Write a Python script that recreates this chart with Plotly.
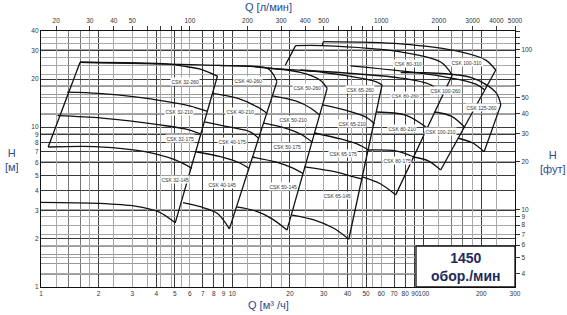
import math
import plotly.graph_objects as go

# ---------------- axes / ticks ----------------
q_ticks = [1, 2, 3, 4, 5, 6, 7, 8, 9, 10, 20, 30, 40, 50, 60, 70, 80, 90, 100, 200, 300]
q_labels = ["1", "2", "3", "4", "5", "6", "7", "8", "9", "10", "20", "30", "40", "50",
            "60", "70", "80", "90", "100", "200", "300"]
q_minor = [1.4, 1.6, 14, 16, 140, 160]
ql_ticks = [20, 30, 40, 50, 60, 70, 80, 90, 100, 200, 300, 400, 500, 600, 700, 800, 900,
            1000, 2000, 3000, 4000, 5000]
ql_labels = ["20", "30", "40", "50", "", "", "", "", "100", "200", "300", "400", "500",
             "", "", "", "", "1000", "2000", "3000", "4000", "5000"]
h_ticks = [1, 2, 3, 4, 5, 6, 7, 8, 9, 10, 20, 30, 40]
h_labels = ["1", "2", "3", "4", "5", "6", "7", "8", "9", "10", "20", "30", "40"]
h_minor = [1.2, 1.4, 1.6, 1.8, 12, 14, 16, 18]
hf_ticks = [4, 5, 6, 7, 8, 9, 10, 20, 30, 40, 50, 60, 70, 80, 90, 100, 110, 120, 130]
hf_labels = ["4", "5", "6", "7", "8", "9", "10", "20", "30", "40", "50", "", "", "", "",
             "100", "", "", ""]

# ---------------- pump curves (Q m3/h, H m) ----------------
c32_min = [(1.0, 3.39), (2.0, 3.34), (3.1, 3.21), (4.1, 2.96), (5.03, 2.52)]
c32_145 = [(1.09, 7.52), (2.0, 7.54), (3.5, 7.03), (5.03, 6.24), (6.15, 5.53)]
c32_175 = [(1.22, 11.8), (2.08, 11.4), (4.28, 10.3), (5.67, 9.75), (6.8, 9.1)]
c32_210 = [(1.37, 16.6), (2.0, 16.3), (3.1, 15.5), (5.67, 13.8), (7.37, 12.6)]
c32_260 = [(1.6, 25.5), (4.64, 24.8), (5.79, 23.9), (6.8, 23.1), (8.36, 20.9)]

c40_min = [(5.52, 3.37), (6.79, 3.18), (8.33, 2.89), (9.65, 2.31)]
c40_145 = [(6.43, 7.02), (8.67, 6.54), (11.0, 5.95), (12.2, 5.53)]
c40_175 = [(7.14, 10.8), (9.75, 10.0), (12.4, 9.36), (13.7, 8.52)]
c40_210 = [(7.83, 16.3), (10.6, 15.2), (13.5, 13.4), (15.2, 12.2)]
c40_260 = [(1.6, 25.5), (5.34, 24.75), (8.36, 24.4), (15.2, 23.4), (16.2, 21.8), (17.1, 19.3)]

c50_min = [(10.5, 3.17), (13.2, 2.99), (16.2, 2.66), (19.3, 2.27)]
c50_145 = [(12.7, 6.51), (16.8, 6.06), (20.6, 5.56), (23.4, 5.13)]
c50_175 = [(14.6, 10.6), (18.9, 9.88), (22.7, 9.07), (26.1, 8.08)]
c50_210 = [(16.2, 15.7), (21.4, 14.6), (25.6, 13.2), (28.6, 11.9)]
c50_260 = [(8.36, 24.4), (12.4, 24.0), (22.7, 22.0), (28.9, 19.6), (31.3, 17.5)]

c65_min = [(20.5, 2.82), (26.7, 2.63), (33.9, 2.33), (40.6, 1.99)]
c65_145 = [(23.8, 5.64), (34.6, 5.25), (41.5, 4.95), (47.9, 4.74)]
c65_175 = [(26.9, 9.2), (36.8, 8.44), (45.7, 7.79), (51.5, 7.2)]
c65_210 = [(29.6, 13.8), (39.0, 12.8), (49.7, 11.6), (55.4, 10.5)]
c65_260 = [(15.2, 23.4), (30.0, 22.0), (46.8, 20.3), (56.1, 19.3), (60.6, 18.4)]

c80_min = [(47.8, 4.88), (59.6, 4.41), (71.4, 3.77)]
c80_175 = [(51.3, 7.2), (71.4, 7.1), (88.6, 6.51)]
c80_210 = [(56.6, 12.45), (80.5, 11.9), (104.4, 9.88)]
c80_260 = [(22.7, 22.8), (75.8, 20.3), (108.8, 18.4), (125.8, 15.9)]
c80_310 = [(21.4, 32.4), (29.5, 32.4), (75.8, 29.6), (122.7, 25.6), (141.0, 21.2)]

c100_min = [(88.6, 6.51), (106.2, 6.14), (122.7, 5.4)]
c100_210 = [(114.2, 12.45), (140.0, 11.7), (163.4, 10.03)]
c100_260 = [(41.5, 24.2), (122.7, 20.9), (187.2, 18.6), (208.6, 17.1)]
c100_310 = [(29.9, 34.3), (75.8, 33.2), (156.2, 29.6), (211.0, 26.3), (238.0, 22.8)]

c125_min = [(150.7, 8.56), (180.5, 7.96), (206.9, 7.03)]
c125_260 = [(75.8, 22.0), (176.0, 20.5), (238.0, 16.5), (253.0, 13.8)]

# straight boundary lines (Q m3/h, H m)
e32_left = [(1.09, 7.52), (1.6, 25.5)]
e32_right = [(5.03, 2.52), (8.36, 20.9)]
e40_right = [(9.65, 2.31), (17.1, 19.3)]
e50_right = [(19.3, 2.27), (31.3, 17.5)]
e65_right = [(40.6, 1.99), (60.6, 18.4)]
e80_left = [(18.9, 24.4), (21.4, 32.4)]
e80_right = [(71.4, 3.77), (141.0, 21.2)]
e100_step = [(29.5, 32.4), (29.9, 34.3)]
e100_right = [(122.7, 5.4), (238.0, 22.8)]
e125_right = [(206.9, 7.03), (253.0, 13.8)]

curves = [c32_min, c32_145, c32_175, c32_210, c32_260,
          c40_min, c40_145, c40_175, c40_210, c40_260,
          c50_min, c50_145, c50_175, c50_210, c50_260,
          c65_min, c65_145, c65_175, c65_210, c65_260,
          c80_min, c80_175, c80_210, c80_260, c80_310,
          c100_min, c100_210, c100_260, c100_310,
          c125_min, c125_260]
edges = [e32_left, e32_right, e40_right, e50_right, e65_right, e80_left,
         e80_right, e100_step, e100_right, e125_right]

# model labels and their pixel placement
model_names = ["CSK 32-260", "CSK 32-210", "CSK 32-175", "CSK 32-145",
               "CSK 40-260", "CSK 40-210", "CSK 40-175", "CSK 40-145",
               "CSK 50-260", "CSK 50-210", "CSK 50-175", "CSK 50-145",
               "CSK 65-260", "CSK 65-210", "CSK 65-175", "CSK 65-145",
               "CSK 80-310", "CSK 80-260", "CSK 80-210", "CSK 80-175",
               "CSK 100-310", "CSK 100-260", "CSK 100-210", "CSK 125-260"]
label_px = [(185, 81.7), (179, 111.7), (180, 138.3), (175, 179),
            (248.3, 80), (240, 111.7), (231.7, 141.7), (221.7, 184.3),
            (306.7, 87.7), (293.3, 119), (286.7, 146.7), (282.7, 186.7),
            (360, 89), (351.7, 123.3), (343.3, 153.3), (336.7, 195),
            (408.3, 63.3), (405, 95), (401.7, 128.3), (396.7, 160),
            (466.7, 62.7), (445, 90.7), (440, 131.7), (481.7, 107.7)]

# ---------------- figure ----------------
W, Hh = 567, 315
ML, MR, MT, MB = 41, 52, 31, 28
PW, PH = W - ML - MR, Hh - MT - MB

fig = go.Figure()
for c in curves:
    fig.add_trace(go.Scatter(x=[p[0] for p in c], y=[p[1] for p in c], mode="lines",
                             line=dict(color="#111111", width=1.3, shape="spline", smoothing=0.9),
                             hoverinfo="skip", showlegend=False))
for e in edges:
    fig.add_trace(go.Scatter(x=[p[0] for p in e], y=[p[1] for p in e], mode="lines",
                             line=dict(color="#111111", width=1.3),
                             hoverinfo="skip", showlegend=False))
# anchor trace for secondary axes
fig.add_trace(go.Scatter(x=[100], y=[10], xaxis="x2", yaxis="y2", mode="markers",
                         marker=dict(opacity=0), hoverinfo="skip", showlegend=False))

tickfont = dict(family="Liberation Sans, Arial, sans-serif", size=6.5, color="#333333")
dark = "#3a3a3a"
light = "#a8a8a8"

fig.update_layout(
    width=W, height=Hh,
    margin=dict(l=ML, r=MR, t=MT, b=MB, pad=0),
    paper_bgcolor="white", plot_bgcolor="white",
    xaxis=dict(type="log", range=[0, math.log10(300)], tickmode="array", tickvals=q_ticks,
               ticktext=q_labels, showgrid=True, gridcolor=dark, gridwidth=0.9,
               minor=dict(tickvals=q_minor, showgrid=True, gridcolor="#777", gridwidth=0.8),
               showline=True, linecolor="#111", linewidth=1.2, ticks="", tickfont=tickfont,
               tickangle=0, zeroline=False, fixedrange=True),
    xaxis2=dict(type="log", overlaying="x", side="top", anchor="y",
                range=[math.log10(1000 / 60), math.log10(300 * 1000 / 60)],
                tickmode="array", tickvals=ql_ticks, ticktext=ql_labels, showgrid=True,
                gridcolor=light, gridwidth=0.9, showline=True, linecolor="#111", linewidth=1.2,
                ticks="outside", ticklen=4, tickcolor="#333", tickwidth=0.8, tickfont=tickfont,
                tickangle=0, zeroline=False, fixedrange=True),
    yaxis=dict(type="log", range=[0, math.log10(40)], tickmode="array", tickvals=h_ticks,
               ticktext=h_labels, showgrid=True, gridcolor=dark, gridwidth=0.9,
               minor=dict(tickvals=h_minor, showgrid=True, gridcolor="#999", gridwidth=0.8),
               showline=True, linecolor="#111", linewidth=1.2, ticks="", tickfont=tickfont,
               tickangle=0, zeroline=False, fixedrange=True),
    yaxis2=dict(type="log", overlaying="y", side="right", anchor="x",
                range=[math.log10(3.28084), math.log10(40 * 3.28084)],
                tickmode="array", tickvals=hf_ticks, ticktext=hf_labels, showgrid=True,
                gridcolor=light, gridwidth=0.9, showline=True, linecolor="#111", linewidth=1.2,
                ticks="outside", ticklen=4, tickcolor="#333", tickwidth=0.8, tickfont=tickfont,
                tickangle=0, zeroline=False, fixedrange=True),
)

title_font = dict(family="Liberation Sans, Arial, sans-serif", size=11, color="#2b4a8c")
ann = []
def px_to_paper(x, y):
    return (x - ML) / PW, (Hh - MB - y) / PH

for name, (px, py) in zip(model_names, label_px):
    xp, yp = px_to_paper(px, py)
    ann.append(dict(x=xp, y=yp, xref="paper", yref="paper", text=name, showarrow=False,
                    font=dict(family="Liberation Sans, Arial, sans-serif", size=5, color="#333"),
                    bgcolor="white", borderpad=0.5, xanchor="center", yanchor="middle"))

for txt, (px, py) in [("Q [л/мин]", (268, 7)), ("Q [м³ /ч]", (268, 305)),
                      ("H<br>[м]", (12, 160)), ("H<br>[фут]", (553, 162))]:
    xp, yp = px_to_paper(px, py)
    ann.append(dict(x=xp, y=yp, xref="paper", yref="paper", text=txt, showarrow=False,
                    font=title_font, xanchor="center", yanchor="middle"))

# speed box
bx0, by0 = px_to_paper(416, 246)
fig.add_shape(type="rect", xref="paper", yref="paper", x0=bx0, x1=1.0, y0=0, y1=by0,
              line=dict(color="#111", width=1.3), fillcolor="white", layer="above")
xp, yp = px_to_paper(465.5, 266.5)
ann.append(dict(x=xp, y=yp, xref="paper", yref="paper",
                text="<b>1450<br>обор./мин</b>", showarrow=False,
                font=dict(family="Liberation Sans, Arial, sans-serif", size=14, color="#1c2b5e"),
                xanchor="center", yanchor="middle"))

fig.update_layout(annotations=ann)
fig.write_html("out.html")
